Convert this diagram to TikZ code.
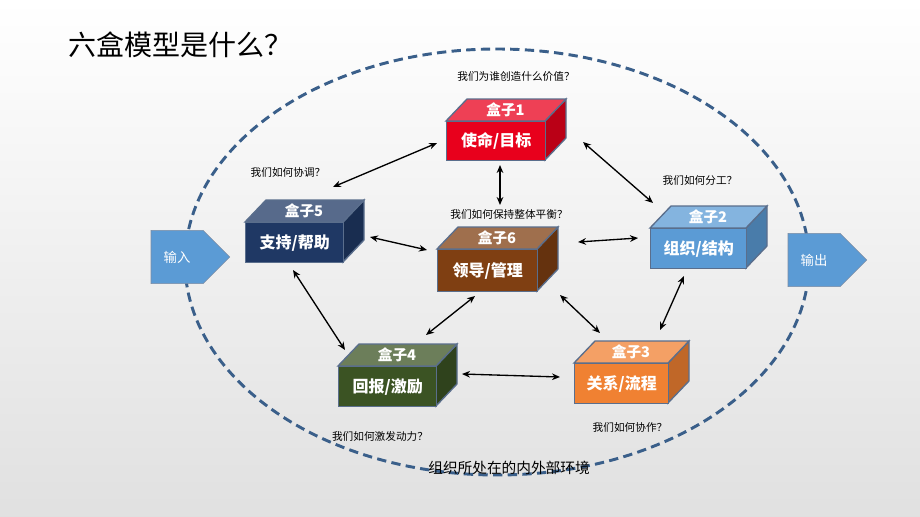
\documentclass[tikz,border=0pt]{standalone}
\usepackage{fontspec}
\newfontfamily\cjk{Noto Sans CJK SC}
\usetikzlibrary{arrows.meta,shapes.arrows}
\definecolor{rimc}{HTML}{5A6E8C}
\definecolor{ellc}{HTML}{3A5F8A}
\definecolor{arrowc}{HTML}{5B9BD5}
\definecolor{cnavy}{HTML}{1F3864}
\definecolor{cbrown}{HTML}{7F3F12}
\definecolor{corange}{HTML}{F08132}
\definecolor{cgreen}{HTML}{3B5323}
\definecolor{cred}{HTML}{E8001C}
\tikzset{
 facec/.style={draw=rimc,line width=1pt},
 boxtxt/.style={font=\cjk\bfseries\fontsize{12}{14}\selectfont,text=white,inner sep=0pt},
 toptxt/.style={font=\cjk\bfseries\fontsize{11}{13}\selectfont,text=white,inner sep=0pt},
 qtxt/.style={font=\cjk\fontsize{8}{10}\selectfont,inner sep=1pt},
 link/.style={{Stealth[length=6pt,width=5pt]}-{Stealth[length=6pt,width=5pt]},line width=1pt},
 io/.style={single arrow,draw=rimc!80,fill=arrowc,minimum height=59pt,minimum width=40pt,single arrow head extend=0pt,shape border rotate=0,font=\cjk\fontsize{10}{12}\selectfont,text=white,inner sep=2pt}
}
% name, x, y, w, h, colour, top label, front label
\newcommand\sixbox[8]{%
 \fill[#6!80!black] (#2+#4,#3) -- ++(21,-22) -- ++(0,#5) -- ++(-21,22) -- cycle;
 \draw[facec] (#2+#4,#3) -- ++(21,-22) -- ++(0,#5) -- ++(-21,22) -- cycle;
 \draw[facec,fill=#6!75!white] (#2,#3) -- ++(21,-22) -- ++(#4,0) -- ++(-21,22) -- cycle;
 \node[facec,fill=#6,minimum width=#4*0.75pt,minimum height=#5*0.75pt,anchor=north west,inner sep=0pt] (#1) at (#2,#3) {};
 \node[boxtxt] at (#1.center) {#8};
 \node[toptxt] at (#2+#4/2+10,#3-11) {#7};
}
\begin{document}
\begin{tikzpicture}[x=0.75pt,y=-0.75pt]
\shade[top color=white,bottom color=black!12] (0,0) rectangle (920,517);
\useasboundingbox (0,0) rectangle (920,517);
\node[anchor=west,font=\cjk\fontsize{21}{24}\selectfont,inner sep=0pt] (title) at (68,45) {六盒模型是什么？};
\draw[ellc,line width=2.2pt,dash pattern=on 7pt off 4pt] (497,262) ellipse [x radius=312,y radius=213];
\node[io] (in) at (177,257) {输入};
\node[io] (out) at (814,260) {输出};
\sixbox{b1}{446}{121}{99}{39}{cred}{盒子1}{使命/目标}
\sixbox{b5}{245}{222}{98}{40}{cnavy}{盒子5}{支持/帮助}
\sixbox{b6}{437}{249}{100}{42}{cbrown}{盒子6}{领导/管理}
\sixbox{b2}{650}{228}{96}{40}{arrowc}{盒子2}{组织/结构}
\sixbox{b3}{574}{363}{94}{40}{corange}{盒子3}{关系/流程}
\sixbox{b4}{338}{366}{98}{40}{cgreen}{盒子4}{回报/激励}
\coordinate (p1a) at (437,143); \coordinate (p1b) at (333,187);
\coordinate (p2a) at (500,165); \coordinate (p2b) at (500,205);
\coordinate (p3a) at (583,142); \coordinate (p3b) at (653,203);
\coordinate (p4a) at (370,237); \coordinate (p4b) at (427,250);
\coordinate (p5a) at (578,242); \coordinate (p5b) at (638,238);
\coordinate (p6a) at (475,296); \coordinate (p6b) at (426,335);
\coordinate (p7a) at (560,295); \coordinate (p7b) at (600,333);
\coordinate (p8a) at (684,276); \coordinate (p8b) at (660,330);
\coordinate (p9a) at (293,270); \coordinate (p9b) at (345,350);
\coordinate (p10a) at (462,374); \coordinate (p10b) at (560,377);
\foreach \i in {1,...,10} {\draw[link] (p\i a) -- (p\i b);}
\node[qtxt] (q1) at (516,76) {我们为谁创造什么价值？};
\node[qtxt] (q5) at (288,172) {我们如何协调？};
\node[qtxt] (q2) at (700,180) {我们如何分工？};
\node[qtxt] (q6) at (509,214) {我们如何保持整体平衡？};
\node[qtxt] (q4) at (380,436) {我们如何激发动力？};
\node[qtxt] (q3) at (630,427) {我们如何协作？};
\node[font=\cjk\fontsize{11}{13}\selectfont,inner sep=1pt] (env) at (509,468) {组织所处在的内外部环境};
\end{tikzpicture}
\end{document}
